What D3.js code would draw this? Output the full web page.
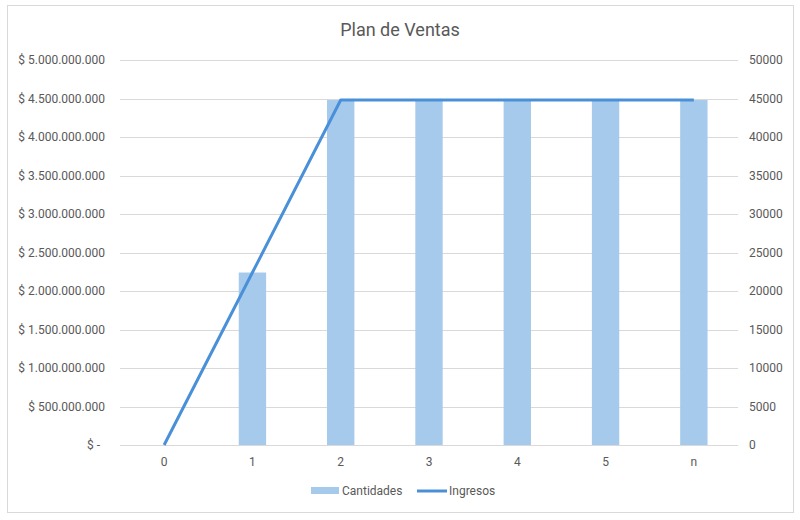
<!DOCTYPE html>
<html>
<head>
<meta charset="utf-8">
<script src="https://cdn.jsdelivr.net/npm/d3@7"></script>
<style>
  body { margin: 0; background: #fff; }
  text { font-family: Roboto, "Noto Sans", sans-serif; fill: #595959; }
</style>
</head>
<body>
<div id="chart"></div>
<script>
// data
var categories = ["0", "1", "2", "3", "4", "5", "n"];
var cantidades = [0, 22400, 44800, 44800, 44800, 44800, 44800];
var ingresos = [0, 2240000000, 4480000000, 4480000000, 4480000000, 4480000000, 4480000000];
var leftTicks = [0, 500000000, 1000000000, 1500000000, 2000000000, 2500000000, 3000000000, 3500000000, 4000000000, 4500000000, 5000000000];
var rightTicks = [0, 5000, 10000, 15000, 20000, 25000, 30000, 35000, 40000, 45000, 50000];

var W = 800, H = 520;
var plot = {left: 120, right: 738, top: 60, bottom: 445};

var svg = d3.select("#chart").append("svg")
    .attr("width", W)
    .attr("height", H);

// chart frame
svg.append("rect")
    .attr("x", 7.5).attr("y", 5.5)
    .attr("width", 786).attr("height", 507)
    .style("fill", "#fff")
    .style("stroke", "#d9d9d9")
    .style("stroke-width", 1);

svg.append("text")
    .attr("x", 400).attr("y", 36)
    .attr("text-anchor", "middle")
    .style("font-size", "18px")
    .text("Plan de Ventas");

var x = d3.scaleBand()
    .domain(categories)
    .range([plot.left, plot.right])
    .paddingInner(0.69)
    .paddingOuter(0.345);

var xc = function(d) { return x(d) + x.bandwidth() / 2; };

var yL = d3.scaleLinear().domain([0, 5000000000]).range([plot.bottom, plot.top]);
var yR = d3.scaleLinear().domain([0, 50000]).range([plot.bottom, plot.top]);

function money(v) {
    if (v === 0) return "$ -";
    return "$ " + d3.format(",")(v).replace(/,/g, ".");
}

// gridlines
svg.append("g")
    .selectAll("line")
    .data(leftTicks)
    .enter().append("line")
    .attr("x1", plot.left).attr("x2", plot.right)
    .attr("y1", function(d) { return Math.round(yL(d)) + 0.5; })
    .attr("y2", function(d) { return Math.round(yL(d)) + 0.5; })
    .style("stroke", "#d9d9d9")
    .style("stroke-width", 1);

// left axis
var leftAxis = svg.append("g")
    .attr("transform", "translate(" + plot.left + ",0)")
    .call(d3.axisLeft(yL).tickValues(leftTicks).tickFormat(money).tickSize(0).tickPadding(15));
leftAxis.select(".domain").remove();
leftAxis.selectAll("text").style("font-size", "12px").style("fill", "#595959");
// accounting format leaves room after the dash
leftAxis.selectAll("text").filter(function(d) { return d === 0; }).attr("dx", "-5");

// right axis
var rightAxis = svg.append("g")
    .attr("transform", "translate(" + plot.right + ",0)")
    .call(d3.axisRight(yR).tickValues(rightTicks).tickFormat(d3.format("d")).tickSize(0).tickPadding(11));
rightAxis.select(".domain").remove();
rightAxis.selectAll("text").style("font-size", "12px").style("fill", "#595959");

// bottom axis
var bottomAxis = svg.append("g")
    .attr("transform", "translate(0," + plot.bottom + ")")
    .call(d3.axisBottom(x).tickSize(0).tickPadding(12));
bottomAxis.select(".domain").remove();
bottomAxis.selectAll("text").style("font-size", "12px").style("fill", "#595959");

// bars (right axis)
svg.append("g")
    .selectAll("rect")
    .data(cantidades)
    .enter().append("rect")
    .attr("x", function(d, i) { return x(categories[i]); })
    .attr("width", x.bandwidth())
    .attr("y", function(d) { return yR(d); })
    .attr("height", function(d) { return plot.bottom - yR(d); })
    .style("fill", "#a6caec");

// line (left axis)
var line = d3.line()
    .x(function(d, i) { return xc(categories[i]); })
    .y(function(d) { return yL(d); });

svg.append("path")
    .datum(ingresos)
    .attr("d", line)
    .style("fill", "none")
    .style("stroke", "#4a90d9")
    .style("stroke-width", 3)
    .style("stroke-linejoin", "round");

// legend
var legend = svg.append("g").attr("transform", "translate(0,491)");
legend.append("rect")
    .attr("x", 311).attr("y", -4)
    .attr("width", 28).attr("height", 7)
    .style("fill", "#a6caec");
legend.append("text")
    .attr("x", 342).attr("y", 4)
    .style("font-size", "12px")
    .text("Cantidades");
legend.append("line")
    .attr("x1", 417).attr("x2", 447)
    .attr("y1", 0).attr("y2", 0)
    .style("stroke", "#4a90d9")
    .style("stroke-width", 3);
legend.append("text")
    .attr("x", 449).attr("y", 4)
    .style("font-size", "12px")
    .text("Ingresos");
</script>
</body>
</html>
